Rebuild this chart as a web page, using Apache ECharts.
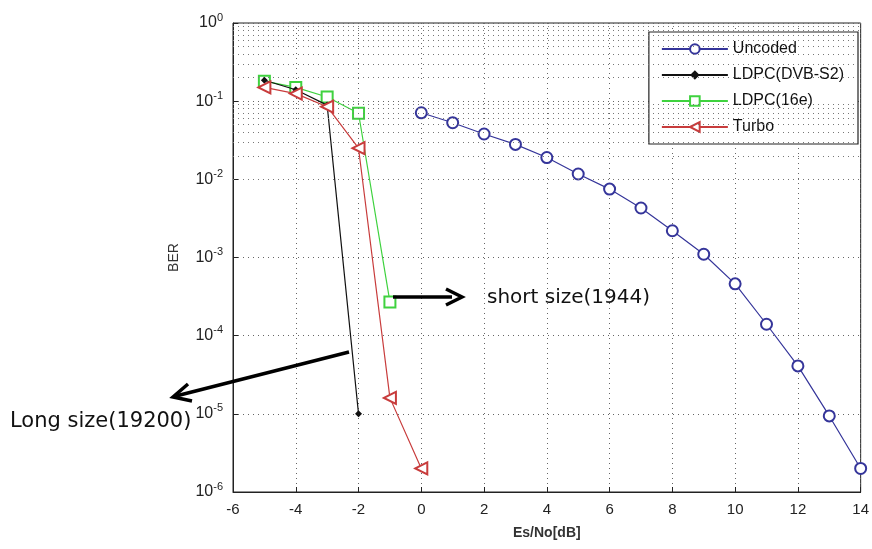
<!DOCTYPE html>
<html>
<head>
<meta charset="utf-8">
<script src="https://cdn.jsdelivr.net/npm/echarts@6/dist/echarts.min.js"></script>
<style>
    html, body { margin: 0; padding: 0; background: #fff; }
    #chart { width: 872px; height: 549px; }
</style>
</head>
<body>
<div id="chart"></div>
<script>
var uncodedX = [0, 1, 2, 3, 4, 5, 6, 7, 8, 9, 10, 11, 12, 13, 14];
var uncodedBer = [0.071, 0.053, 0.038, 0.028, 0.019, 0.0117, 0.0075, 0.0043, 0.0022, 0.0011, 4.6e-4, 1.4e-4, 4.1e-5, 9.4e-6, 2.0e-6];

var dvbX = [-5, -4, -3, -2];
var dvbBer = [0.185, 0.14, 0.089, 1.0e-5];

var ldpc16eX = [-5, -4, -3, -2, -1];
var ldpc16eBer = [0.18, 0.15, 0.113, 0.07, 2.7e-4];

var turboX = [-5, -4, -3, -2, -1, 0];
var turboBer = [0.15, 0.125, 0.085, 0.025, 1.6e-5, 2.0e-6];

var legendNames = ['Uncoded', 'LDPC(DVB-S2)', 'LDPC(16e)', 'Turbo'];

function pairs(xs, ys) {
    var out = [];
    for (var i = 0; i < xs.length; i++) {
        out.push([xs[i], ys[i]]);
    }
    return out;
}

// minor grid lines of the log axis (2..9 in each decade)
var minorLines = [];
for (var k = -6; k < 0; k++) {
    for (var m = 2; m <= 9; m++) {
        minorLines.push({ yAxis: m * Math.pow(10, k) });
    }
}

var chart = echarts.init(document.getElementById('chart'));

chart.setOption({
    animation: false,
    textStyle: { fontFamily: 'Liberation Sans, Arial, sans-serif' },
    grid: {
        left: 233, right: 10, top: 23, bottom: 57,
        show: true, borderColor: '#222', borderWidth: 1, backgroundColor: '#fff'
    },
    legend: {
        orient: 'vertical',
        right: 14,
        top: 32,
        itemWidth: 66,
        itemHeight: 12,
        itemGap: 10,
        padding: [9, 14, 9, 12],
        backgroundColor: '#fff',
        borderColor: '#222',
        borderWidth: 1.2,
        textStyle: { fontSize: 16, color: '#111' },
        data: legendNames
    },
    xAxis: {
        type: 'value',
        min: -6, max: 14, interval: 2,
        name: 'Es/No[dB]',
        nameLocation: 'middle',
        nameGap: 34,
        nameTextStyle: { fontSize: 14, fontWeight: 'bold', color: '#333' },
        axisLine: { onZero: false, lineStyle: { color: '#222' } },
        axisTick: { inside: true, length: 5, lineStyle: { color: '#222' } },
        axisLabel: { fontSize: 15, color: '#222', margin: 10 },
        splitLine: { show: true, lineStyle: { color: '#666', type: [1, 4], width: 1 } }
    },
    yAxis: {
        type: 'log',
        logBase: 10,
        min: 1e-6, max: 1,
        name: 'BER',
        nameLocation: 'middle',
        nameGap: 52,
        nameTextStyle: { fontSize: 14, color: '#333' },
        axisLine: { onZero: false, lineStyle: { color: '#222' } },
        axisTick: { inside: true, length: 5, lineStyle: { color: '#222' } },
        axisLabel: {
            margin: 10,
            formatter: function (v) {
                var e = Math.round(Math.log10(v));
                return '{b|10}{s|' + e + '}';
            },
            rich: {
                b: { fontSize: 16, color: '#222' },
                s: { fontSize: 11, color: '#222', padding: [0, 0, 11, 0] }
            }
        },
        splitLine: { show: true, lineStyle: { color: '#666', type: [1, 4], width: 1 } }
    },
    series: [
        {
            name: 'Uncoded',
            type: 'line',
            data: pairs(uncodedX, uncodedBer),
            symbol: 'emptyCircle',
            symbolSize: 11,
            lineStyle: { color: '#35359a', width: 1.2 },
            itemStyle: { color: '#35359a', borderWidth: 1.3 },
            markLine: {
                silent: true,
                symbol: 'none',
                label: { show: false },
                lineStyle: { color: '#777', type: [1, 4], width: 1 },
                data: minorLines
            },
            z: 3
        },
        {
            name: 'LDPC(DVB-S2)',
            type: 'line',
            data: pairs(dvbX, dvbBer),
            symbol: 'diamond',
            symbolSize: 7,
            lineStyle: { color: '#111', width: 1.2 },
            itemStyle: { color: '#111' },
            z: 4
        },
        {
            name: 'LDPC(16e)',
            type: 'line',
            data: pairs(ldpc16eX, ldpc16eBer),
            symbol: 'emptyRect',
            symbolSize: 11,
            lineStyle: { color: '#3fd23f', width: 1.2 },
            itemStyle: { color: '#3fd23f', borderWidth: 1.3 },
            z: 3
        },
        {
            name: 'Turbo',
            type: 'line',
            data: pairs(turboX, turboBer),
            symbol: 'emptyTriangle',
            symbolRotate: 90,
            symbolSize: 12,
            lineStyle: { color: '#c83c3c', width: 1.2 },
            itemStyle: { color: '#c83c3c', borderWidth: 1.3 },
            z: 5
        }
    ],
    graphic: [
        {
            type: 'line',
            shape: { x1: 393, y1: 297, x2: 452, y2: 297 },
            style: { stroke: '#000', lineWidth: 3.5 },
            z: 100
        },
        {
            type: 'polyline',
            shape: { points: [[446, 289], [462, 297], [446, 305]] },
            style: { stroke: '#000', lineWidth: 3.5, fill: null },
            z: 100
        },
        {
            type: 'text',
            left: 487, top: 288,
            style: { text: 'short size(1944)', fill: '#111', font: '20px DejaVu Sans' },
            z: 100
        },
        {
            type: 'line',
            shape: { x1: 349, y1: 352, x2: 176, y2: 396 },
            style: { stroke: '#000', lineWidth: 3.5 },
            z: 100
        },
        {
            type: 'polyline',
            shape: { points: [[188, 384], [173, 397], [192, 401]] },
            style: { stroke: '#000', lineWidth: 3.5, fill: null },
            z: 100
        },
        {
            type: 'text',
            left: 10, top: 411,
            style: { text: 'Long size(19200)', fill: '#111', font: '21px DejaVu Sans' },
            z: 100
        }
    ]
});
</script>
</body>
</html>
